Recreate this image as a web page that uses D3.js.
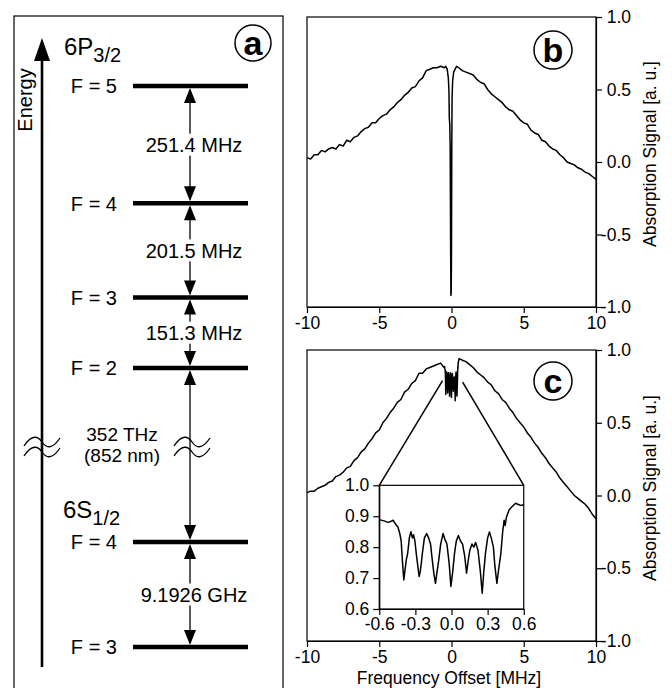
<!DOCTYPE html>
<html>
<head>
<meta charset="utf-8">
<script src="https://cdn.jsdelivr.net/npm/d3@7"></script>
<style>
  body { margin: 0; background: #fff; }
  svg { font-family: "Liberation Sans", Arial, sans-serif; }
</style>
</head>
<body>
<div id="chart"></div>
<script>
// ---- panel a: level scheme ----
const upperLevelLabels = ["F = 2", "F = 3", "F = 4", "F = 5"];
const upperLevelMHz = [0, 151.3, 352.8, 604.2];
const upperSplitLabels = ["151.3 MHz", "201.5 MHz", "251.4 MHz"];
const lowerLevelLabels = ["F = 3", "F = 4"];
const lowerLevelGHz = [0, 9.1926];
const lowerSplitLabel = "9.1926 GHz";
const opticalLabels = ["352 THz", "(852 nm)"];

// ---- panel b: absorption trace [MHz, a.u.] ----
const traceB = [
  [-10, 0.03], [-9.75, 0.02], [-9.5, 0.05], [-9.25, 0.05], [-9, 0.08], [-8.75, 0.07],
  [-8.5, 0.09], [-8.25, 0.1], [-8, 0.09], [-7.75, 0.12], [-7.5, 0.11], [-7.25, 0.15],
  [-7, 0.14], [-6.75, 0.17], [-6.5, 0.18], [-6.25, 0.21], [-6, 0.23], [-5.75, 0.24],
  [-5.5, 0.27], [-5.25, 0.27], [-5, 0.3], [-4.75, 0.32], [-4.5, 0.33], [-4.25, 0.36],
  [-4, 0.38], [-3.75, 0.41], [-3.5, 0.43], [-3.25, 0.46], [-3, 0.48], [-2.75, 0.51],
  [-2.5, 0.52], [-2.25, 0.56], [-2, 0.58], [-1.75, 0.63], [-1.5, 0.64], [-1.25, 0.65],
  [-1, 0.65], [-0.75, 0.66], [-0.5, 0.65], [-0.4, 0.66], [-0.3, 0.64], [-0.22, 0.58],
  [-0.18, 0.5], [-0.15, 0.3], [-0.12, 0.26], [-0.09, 0.1], [-0.06, -0.6], [-0.04, -0.92],
  [-0.02, -0.9], [0, -0.6], [0.02, 0.1], [0.04, 0.45], [0.08, 0.56], [0.15, 0.62],
  [0.25, 0.64], [0.35, 0.66], [0.5, 0.65], [0.75, 0.63], [1, 0.62], [1.25, 0.61],
  [1.5, 0.6], [1.75, 0.57], [2, 0.55], [2.25, 0.54], [2.5, 0.5], [2.75, 0.47],
  [3, 0.45], [3.25, 0.43], [3.5, 0.41], [3.75, 0.38], [4, 0.36], [4.25, 0.35],
  [4.5, 0.32], [4.75, 0.29], [5, 0.27], [5.25, 0.26], [5.5, 0.22], [5.75, 0.2],
  [6, 0.19], [6.25, 0.15], [6.5, 0.14], [6.75, 0.11], [7, 0.09], [7.25, 0.08],
  [7.5, 0.05], [7.75, 0.03], [8, 0.0], [8.25, -0.01], [8.5, -0.02], [8.75, -0.04],
  [9, -0.05], [9.25, -0.07], [9.5, -0.08], [9.75, -0.1], [10, -0.12]
];

// ---- panel c: broad trace outside the zoomed window ----
const traceCLeft = [
  [-10, 0.02], [-9.75, 0.03], [-9.5, 0.03], [-9.25, 0.05], [-9, 0.06], [-8.75, 0.07],
  [-8.5, 0.09], [-8.25, 0.1], [-8, 0.13], [-7.75, 0.14], [-7.5, 0.16], [-7.25, 0.19],
  [-7, 0.2], [-6.75, 0.24], [-6.5, 0.26], [-6.25, 0.3], [-6, 0.32], [-5.75, 0.36],
  [-5.5, 0.39], [-5.25, 0.43], [-5, 0.45], [-4.75, 0.5], [-4.5, 0.53], [-4.25, 0.57],
  [-4, 0.6], [-3.75, 0.64], [-3.5, 0.66], [-3.25, 0.71], [-3, 0.73], [-2.75, 0.77],
  [-2.5, 0.79], [-2.25, 0.84], [-2, 0.84], [-1.75, 0.87], [-1.5, 0.88], [-1.25, 0.89],
  [-1, 0.9], [-0.75, 0.91]
];
const traceCRight = [
  [0.75, 0.93], [1, 0.92], [1.25, 0.9], [1.5, 0.88], [1.75, 0.85], [2, 0.83],
  [2.25, 0.81], [2.5, 0.78], [2.75, 0.76], [3, 0.72], [3.25, 0.7], [3.5, 0.66],
  [3.75, 0.64], [4, 0.6], [4.25, 0.57], [4.5, 0.53], [4.75, 0.5], [5, 0.47],
  [5.25, 0.43], [5.5, 0.4], [5.75, 0.36], [6, 0.33], [6.25, 0.29], [6.5, 0.26],
  [6.75, 0.22], [7, 0.19], [7.25, 0.16], [7.5, 0.12], [7.75, 0.09], [8, 0.06],
  [8.25, 0.03], [8.5, 0.0], [8.75, -0.02], [9, -0.04], [9.25, -0.06], [9.5, -0.09],
  [9.75, -0.13], [10, -0.16]
];
// zoomed window (inset), -0.6 .. 0.6 MHz
const traceInset = [
  [-0.6, 0.889], [-0.56, 0.885], [-0.527, 0.88], [-0.5, 0.884], [-0.486, 0.887],
  [-0.465, 0.875], [-0.445, 0.865], [-0.43, 0.845], [-0.418, 0.82], [-0.405, 0.74],
  [-0.396, 0.694], [-0.385, 0.73], [-0.375, 0.76], [-0.364, 0.78], [-0.35, 0.83],
  [-0.337, 0.85], [-0.325, 0.83], [-0.315, 0.84], [-0.304, 0.82], [-0.29, 0.77],
  [-0.28, 0.74], [-0.269, 0.705], [-0.26, 0.72], [-0.25, 0.75], [-0.242, 0.78],
  [-0.225, 0.83], [-0.206, 0.844], [-0.19, 0.83], [-0.174, 0.81], [-0.16, 0.76],
  [-0.145, 0.71], [-0.133, 0.683], [-0.12, 0.72], [-0.106, 0.758], [-0.09, 0.81],
  [-0.07, 0.844], [-0.055, 0.825], [-0.038, 0.81], [-0.02, 0.75], [-0.005, 0.673],
  [0.01, 0.72], [0.025, 0.78], [0.04, 0.82], [0.057, 0.838], [0.075, 0.82],
  [0.092, 0.81], [0.11, 0.77], [0.125, 0.716], [0.14, 0.76], [0.152, 0.79],
  [0.17, 0.81], [0.185, 0.8], [0.2, 0.815], [0.22, 0.79], [0.24, 0.72],
  [0.255, 0.651], [0.268, 0.72], [0.282, 0.78], [0.3, 0.83], [0.315, 0.849],
  [0.33, 0.83], [0.348, 0.8], [0.36, 0.74], [0.377, 0.683], [0.392, 0.73],
  [0.41, 0.78], [0.425, 0.85], [0.437, 0.887], [0.446, 0.87], [0.456, 0.897],
  [0.478, 0.92], [0.5, 0.93], [0.532, 0.942], [0.555, 0.938], [0.573, 0.935], [0.6, 0.937]
];

const freqTicks = [-10, -5, 0, 5, 10];
const signalTicks = [-1, -0.5, 0, 0.5, 1];
const insetFreqTicks = [-0.6, -0.3, 0, 0.3, 0.6];
const insetSignalTicks = [0.6, 0.7, 0.8, 0.9, 1.0];
// inset frame in panel-c data units, and where the zoom lines meet the trace
const insetFrameFreq = [-5, 5];
const insetFrameSignal = [-0.78, 0.07];
const zoomAnchors = [[-0.62, 0.79], [0.77, 0.78]];

const width = 672;
const height = 688;
const font = "Liberation Sans, Arial, sans-serif";

const svg = d3
  .select("#chart")
  .append("svg")
  .attr("width", width)
  .attr("height", height);

svg.append("rect").attr("width", width).attr("height", height).attr("fill", "#fff");

// ================= panel a =================
const pa = svg.append("g");
pa.append("rect")
  .attr("x", 14).attr("y", 16).attr("width", 269).attr("height", 700)
  .attr("fill", "none").attr("stroke", "#000").attr("stroke-width", 1.2);

const yUpper = d3.scaleLinear().domain([0, 604.2]).range([368, 86]);
const yLower = d3.scaleLinear().domain([0, 9.1926]).range([647, 542]);
const levelX0 = 133, levelX1 = 248, arrowX = 190;

// energy axis
pa.append("line")
  .attr("x1", 42).attr("x2", 42).attr("y1", 667).attr("y2", 56)
  .attr("stroke", "#000").attr("stroke-width", 2.6);
pa.append("path").attr("d", "M42,38 L34,61 L50,61 Z").attr("fill", "#000");
pa.append("text")
  .attr("transform", "translate(32,100) rotate(-90)")
  .attr("text-anchor", "middle")
  .style("font-size", "20px")
  .text("Energy");

// manifold names
function termLabel(x, y, main, sub) {
  const t = pa.append("text").attr("x", x).attr("y", y).style("font-size", "24px");
  t.append("tspan").text(main);
  t.append("tspan").attr("dy", 7).style("font-size", "20px").text(sub);
}
termLabel(64, 55, "6P", "3/2");
termLabel(63, 518, "6S", "1/2");

// levels
function drawLevels(labels, values, scale) {
  labels.forEach((lab, i) => {
    const y = scale(values[i]);
    pa.append("line")
      .attr("x1", levelX0).attr("x2", levelX1).attr("y1", y).attr("y2", y)
      .attr("stroke", "#000").attr("stroke-width", 4.5);
    pa.append("text")
      .attr("x", 117).attr("y", y).attr("dy", "0.36em")
      .attr("text-anchor", "end")
      .style("font-size", "20px")
      .text(lab);
  });
}
drawLevels(upperLevelLabels, upperLevelMHz, yUpper);
drawLevels(lowerLevelLabels, lowerLevelGHz, yLower);

function head(x, yTip, dir) {
  // dir = 1 points down, -1 points up
  const L = 15, w = 6;
  pa.append("path")
    .attr("d", `M${x},${yTip} L${x - w},${yTip - dir * L} L${x + w},${yTip - dir * L} Z`)
    .attr("fill", "#000");
}
function doubleArrow(yTop, yBot, label) {
  pa.append("line")
    .attr("x1", arrowX).attr("x2", arrowX).attr("y1", yTop + 4).attr("y2", yBot - 4)
    .attr("stroke", "#000").attr("stroke-width", 1.3);
  head(arrowX, yTop + 2, -1);
  head(arrowX, yBot - 2, 1);
  if (label) {
    const ym = (yTop + yBot) / 2;
    pa.append("rect")
      .attr("x", arrowX - 48).attr("y", ym - 11).attr("width", 104).attr("height", 22)
      .attr("fill", "#fff");
    pa.append("text")
      .attr("x", arrowX + 4).attr("y", ym).attr("dy", "0.36em")
      .attr("text-anchor", "middle")
      .style("font-size", "20px")
      .text(label);
  }
}
for (let i = 0; i < upperSplitLabels.length; i++) {
  doubleArrow(yUpper(upperLevelMHz[i + 1]), yUpper(upperLevelMHz[i]), upperSplitLabels[i]);
}
doubleArrow(yUpper(upperLevelMHz[0]), yLower(lowerLevelGHz[1]), null);
doubleArrow(yLower(lowerLevelGHz[1]), yLower(lowerLevelGHz[0]), lowerSplitLabel);

// optical transition label
opticalLabels.forEach((t, i) => {
  pa.append("text")
    .attr("x", 122).attr("y", 434 + i * 21).attr("dy", "0.36em")
    .attr("text-anchor", "middle")
    .style("font-size", "19px")
    .text(t);
});

// axis break marks
[42, 192].forEach((cx) => {
  [442, 452].forEach((cy) => {
    pa.append("path")
      .attr("d", `M${cx - 18},${cy + 4} C${cx - 10},${cy - 8} ${cx - 4},${cy - 6} ${cx},${cy} S${cx + 10},${cy + 8} ${cx + 18},${cy - 4}`)
      .attr("fill", "none").attr("stroke", "#000").attr("stroke-width", 1.3);
  });
});

// circled letters
function circled(g, cx, cy, r, letter) {
  g.append("circle").attr("cx", cx).attr("cy", cy).attr("r", r)
    .attr("fill", "#fff").attr("stroke", "#000").attr("stroke-width", 1.5);
  g.append("text").attr("x", cx).attr("y", cy).attr("dy", "0.35em")
    .attr("text-anchor", "middle")
    .style("font-size", "34px").style("font-weight", "bold")
    .text(letter);
}
circled(pa, 253, 43, 18, "a");

// ================= panels b and c =================
const plotX0 = 307, plotX1 = 596;
const fmt1 = (d) => d.toFixed(1);
const fmtInt = (d) => String(d);

function panel(top, bottom, data, letter, circleY, labelY) {
  const g = svg.append("g");
  const x = d3.scaleLinear().domain([-10, 10]).range([plotX0, plotX1]);
  const y = d3.scaleLinear().domain([-1, 1]).range([bottom, top]);

  g.append("rect")
    .attr("x", plotX0).attr("y", top)
    .attr("width", plotX1 - plotX0).attr("height", bottom - top)
    .attr("fill", "none").attr("stroke", "#000").attr("stroke-width", 1.2);

  const xAxis = d3.axisBottom(x).tickValues(freqTicks).tickFormat(fmtInt)
    .tickSize(6).tickSizeOuter(0).tickPadding(4);
  const yAxis = d3.axisRight(y).tickValues(signalTicks).tickFormat(fmt1)
    .tickSize(6).tickSizeOuter(0).tickPadding(4);

  const gx = g.append("g").attr("transform", `translate(0,${bottom})`).call(xAxis);
  const gy = g.append("g").attr("transform", `translate(${plotX1},0)`).call(yAxis);
  [gx, gy].forEach((a) => {
    a.selectAll("text").style("font-size", "17.5px").style("font-family", font).attr("fill", "#000");
    a.selectAll("line, path").attr("stroke", "#000").attr("stroke-width", 1.2);
  });
  gy.selectAll("text").attr("text-anchor", "end").attr("x", 35);

  g.append("path")
    .datum(data)
    .attr("fill", "none").attr("stroke", "#000").attr("stroke-width", 1.5)
    .attr("stroke-linejoin", "round")
    .attr("d", d3.line().x((d) => x(d[0])).y((d) => y(d[1])));

  circled(g, 553, circleY, 19, letter);

  g.append("text")
    .attr("transform", `translate(656,${labelY}) rotate(-90)`)
    .attr("text-anchor", "middle")
    .style("font-size", "17.5px")
    .text("Absorption Signal [a. u.]");

  return { g, x, y };
}

panel(17, 307, traceB, "b", 50, 154);
const traceC = traceCLeft.concat(traceInset, traceCRight);
const pc = panel(350, 641, traceC, "c", 381, 488);

svg.append("text")
  .attr("x", 449).attr("y", 684)
  .attr("text-anchor", "middle")
  .style("font-size", "17.5px")
  .text("Frequency Offset [MHz]");

// ---- inset ----
const ix0 = pc.x(insetFrameFreq[0]), ix1 = pc.x(insetFrameFreq[1]);
const iy0 = pc.y(insetFrameSignal[1]), iy1 = pc.y(insetFrameSignal[0]);

// zoom lines
[[ix0, zoomAnchors[0]], [ix1, zoomAnchors[1]]].forEach(([xc, a]) => {
  pc.g.append("line")
    .attr("x1", xc).attr("y1", iy0)
    .attr("x2", pc.x(a[0])).attr("y2", pc.y(a[1]))
    .attr("stroke", "#000").attr("stroke-width", 1.5);
});

const xi = d3.scaleLinear().domain([-0.6, 0.6]).range([ix0, ix1]);
const yi = d3.scaleLinear().domain([0.6, 1.0]).range([iy1, iy0]);

pc.g.append("rect")
  .attr("x", ix0).attr("y", iy0).attr("width", ix1 - ix0).attr("height", iy1 - iy0)
  .attr("fill", "#fff").attr("stroke", "#000").attr("stroke-width", 1.2);

const gxi = pc.g.append("g").attr("transform", `translate(0,${iy1})`)
  .call(d3.axisBottom(xi).tickValues(insetFreqTicks).tickFormat(fmt1).tickSize(6).tickSizeOuter(0).tickPadding(3));
const gyi = pc.g.append("g").attr("transform", `translate(${ix0},0)`)
  .call(d3.axisLeft(yi).tickValues(insetSignalTicks).tickFormat(fmt1).tickSize(6).tickSizeOuter(0).tickPadding(4));
[gxi, gyi].forEach((a) => {
  a.selectAll("text").style("font-size", "17.5px").style("font-family", font).attr("fill", "#000");
  a.selectAll("line, path").attr("stroke", "#000").attr("stroke-width", 1.2);
});

pc.g.append("path")
  .datum(traceInset)
  .attr("fill", "none").attr("stroke", "#000").attr("stroke-width", 1.5)
  .attr("stroke-linejoin", "round")
  .attr("d", d3.line().x((d) => xi(d[0])).y((d) => yi(d[1])));
</script>
</body>
</html>
